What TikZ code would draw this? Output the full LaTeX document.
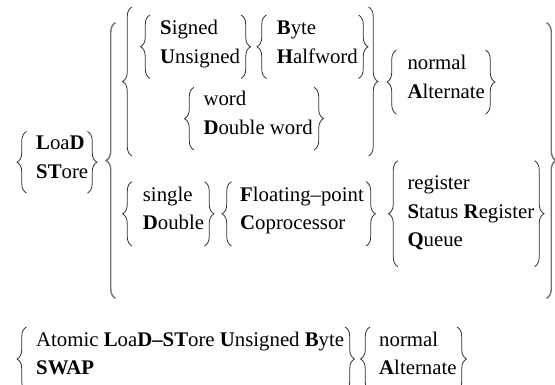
\documentclass[tikz,border=0pt]{standalone}
\usepackage{fontspec}
\setmainfont{Liberation Serif}
\usetikzlibrary{decorations.pathreplacing}

\tikzset{
  txt/.style={anchor=base west, inner sep=0pt, font=\fontsize{20.8}{25}\selectfont},
  brc/.style={decorate, decoration={brace, amplitude=9.5pt}, line width=0.8pt, black!80},
  bigbrc/.style={brc, line width=1.4pt, black!55},
}

\begin{document}
\begin{tikzpicture}[x=1pt,y=-1pt]
    \useasboundingbox (0,0) rectangle (555,385);

    % load / store
    \node[txt] (ld) at (36,150) {\textbf{L}oa\textbf{D}};
    \node[txt] (st) at (36,178.5) {\textbf{ST}ore};
    \draw[brc] (26.5,193) -- (26.5,131.5);
    \draw[brc] (87.5,131.5) -- (87.5,193);

    % outer braces
    \draw[bigbrc] (115.5,298.3) -- (115.5,22.7);
    \draw[bigbrc] (546.5,22.7) -- (546.5,298.3);
    \draw[brc] (132,156) -- (132,7);
    \draw[brc] (368.5,7) -- (368.5,156);

    % signed / unsigned
    \node[txt] (sg) at (160,34.3) {\textbf{S}igned};
    \node[txt] (us) at (160,63.3) {\textbf{U}nsigned};
    \draw[brc] (150,78.5) -- (150,15);
    \draw[brc] (241,15) -- (241,78.5);

    % byte / halfword
    \node[txt] (by) at (276.7,34.3) {\textbf{B}yte};
    \node[txt] (hw) at (276.7,63.3) {\textbf{H}alfword};
    \draw[brc] (266.5,78.5) -- (266.5,15);
    \draw[brc] (358.5,15) -- (358.5,78.5);

    % word / double word
    \node[txt] (wd) at (203.3,106) {word};
    \node[txt] (dw) at (203.3,135) {\textbf{D}ouble word};
    \draw[brc] (194,150) -- (194,87.3);
    \draw[brc] (314,87.3) -- (314,150);

    % normal / alternate
    \node[txt] (nm) at (407.3,70) {normal};
    \node[txt] (al) at (407.3,98.3) {\textbf{A}lternate};
    \draw[brc] (396.5,114) -- (396.5,50);
    \draw[brc] (485.5,50) -- (485.5,114);

    % single / double
    \node[txt] (sn) at (142.7,201.7) {single};
    \node[txt] (db) at (142.7,230) {\textbf{D}ouble};
    \draw[brc] (132,246) -- (132,181.7);
    \draw[brc] (204.5,181.7) -- (204.5,246);

    % floating-point / coprocessor
    \node[txt] (fp) at (240,201.7) {\textbf{F}loating–point};
    \node[txt] (cp) at (240,230) {\textbf{C}oprocessor};
    \draw[brc] (231.5,246) -- (231.5,181.7);
    \draw[brc] (366,181.7) -- (366,246);

    % register / status register / queue
    \node[txt] (rg) at (407.3,190) {register};
    \node[txt] (sr) at (407.3,218.3) {\textbf{S}tatus \textbf{R}egister};
    \node[txt] (qu) at (407.3,246.7) {\textbf{Q}ueue};
    \draw[brc] (398,266.7) -- (398,160.7);
    \draw[brc] (534.5,160.7) -- (534.5,266.7);

    % atomic / swap
    \node[txt] (atm) at (36,346) {Atomic \textbf{L}oa\textbf{D–ST}ore \textbf{U}nsigned \textbf{B}yte};
    \node[txt] (sw) at (36,374.5) {\textbf{SWAP}};
    \draw[brc] (26.5,391) -- (26.5,327);
    \draw[brc] (345,327) -- (345,391);

    \node[txt] (nm2) at (379,346) {normal};
    \node[txt] (al2) at (379,374.5) {\textbf{A}lternate};
    \draw[brc] (370,391) -- (370,327);
    \draw[brc] (457,327) -- (457,391);
\end{tikzpicture}
\end{document}
